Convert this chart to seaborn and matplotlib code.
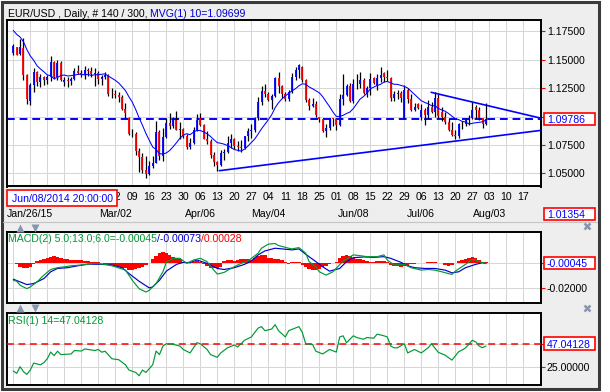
import numpy as np
import pandas as pd
import matplotlib.pyplot as plt
import seaborn as sns
from matplotlib.patches import Rectangle
from matplotlib.lines import Line2D

# EUR/USD daily bars, index 0 = Mon Jan 19 2015 ... 139 = Fri Jul 31 2015
opens = [1.1560, 1.1610, 1.1550, 1.1600, 1.1365, 1.1140, 1.1280, 1.1395, 1.1300, 1.1350,
         1.1320, 1.1345, 1.1480, 1.1345, 1.1475, 1.1300, 1.1320, 1.1310, 1.1330, 1.1400,
         1.1385, 1.1365, 1.1410, 1.1400, 1.1375, 1.1380, 1.1330, 1.1345, 1.1365, 1.1195,
         1.1200, 1.1185, 1.1175, 1.1070, 1.0990, 1.0845, 1.0850, 1.0700, 1.0640, 1.0525,
         1.0495, 1.0565, 1.0595, 1.0860, 1.0650, 1.0820, 1.0940, 1.0920, 1.0965, 1.0885,
         1.0890, 1.0830, 1.0730, 1.0765, 1.0885, 1.0985, 1.0925, 1.0805, 1.0785, 1.0660,
         1.0600, 1.0570, 1.0680, 1.0685, 1.0765, 1.0805, 1.0740, 1.0730, 1.0725, 1.0825,
         1.0870, 1.0885, 1.0985, 1.1125, 1.1225, 1.1195, 1.1145, 1.1180, 1.1340, 1.1265,
         1.1200, 1.1155, 1.1215, 1.1345, 1.1410, 1.1440, 1.1320, 1.1145, 1.1095, 1.1110,
         1.1000, 1.0980, 1.0875, 1.0900, 1.0985, 1.0975, 1.0925, 1.1150, 1.1190, 1.1270,
         1.1140, 1.1290, 1.1285, 1.1325, 1.1200, 1.1250, 1.1335, 1.1270, 1.1335, 1.1380,
         1.1350, 1.1340, 1.1160, 1.1200, 1.1205, 1.0990, 1.1235, 1.1150, 1.1055, 1.1110,
         1.1000, 1.1055, 1.1015, 1.1080, 1.1040, 1.1160, 1.1040, 1.1000, 1.0955, 1.0885,
         1.0835, 1.0830, 1.0935, 1.0930, 1.0980, 1.0985, 1.1085, 1.1060, 1.0985, 1.0935]
highs = [1.1640, 1.1615, 1.1680, 1.1690, 1.1378, 1.1295, 1.1425, 1.1400, 1.1370, 1.1360,
         1.1365, 1.1535, 1.1490, 1.1495, 1.1485, 1.1350, 1.1345, 1.1345, 1.1430, 1.1450,
         1.1405, 1.1445, 1.1425, 1.1440, 1.1425, 1.1400, 1.1365, 1.1390, 1.1375, 1.1250,
         1.1235, 1.1220, 1.1190, 1.1115, 1.1000, 1.0890, 1.0860, 1.0725, 1.0680, 1.0650,
         1.0605, 1.0650, 1.0960, 1.0880, 1.0900, 1.0985, 1.1035, 1.1000, 1.1050, 1.0950,
         1.0900, 1.0845, 1.0810, 1.0905, 1.1025, 1.1030, 1.0935, 1.0870, 1.0800, 1.0690,
         1.0605, 1.0705, 1.0710, 1.0825, 1.0850, 1.0815, 1.0780, 1.0795, 1.0830, 1.0900,
         1.0930, 1.1000, 1.1175, 1.1265, 1.1290, 1.1220, 1.1195, 1.1350, 1.1390, 1.1280,
         1.1220, 1.1230, 1.1385, 1.1440, 1.1465, 1.1445, 1.1330, 1.1165, 1.1165, 1.1140,
         1.1000, 1.0985, 1.0930, 1.0990, 1.0990, 1.0990, 1.1195, 1.1375, 1.1285, 1.1295,
         1.1330, 1.1370, 1.1390, 1.1340, 1.1270, 1.1385, 1.1345, 1.1370, 1.1435, 1.1390,
         1.1410, 1.1345, 1.1225, 1.1230, 1.1225, 1.1275, 1.1250, 1.1195, 1.1120, 1.1120,
         1.1110, 1.1075, 1.1145, 1.1130, 1.1215, 1.1200, 1.1085, 1.1040, 1.0985, 1.0955,
         1.0880, 1.0945, 1.0960, 1.0990, 1.1010, 1.1125, 1.1100, 1.1085, 1.0990, 1.1115]
lows = [1.1540, 1.1540, 1.1540, 1.1320, 1.1112, 1.1100, 1.1220, 1.1265, 1.1260, 1.1275,
        1.1290, 1.1310, 1.1330, 1.1320, 1.1315, 1.1270, 1.1260, 1.1280, 1.1320, 1.1370,
        1.1345, 1.1330, 1.1360, 1.1345, 1.1270, 1.1290, 1.1280, 1.1330, 1.1180, 1.1160,
        1.1165, 1.1130, 1.1060, 1.0985, 1.0840, 1.0820, 1.0665, 1.0515, 1.0500, 1.0460,
        1.0485, 1.0545, 1.0590, 1.0615, 1.0610, 1.0810, 1.0890, 1.0900, 1.0880, 1.0800,
        1.0810, 1.0710, 1.0715, 1.0760, 1.0875, 1.0915, 1.0800, 1.0760, 1.0635, 1.0565,
        1.0520, 1.0560, 1.0620, 1.0680, 1.0720, 1.0710, 1.0695, 1.0690, 1.0710, 1.0780,
        1.0815, 1.0860, 1.0970, 1.1105, 1.1175, 1.1140, 1.1065, 1.1170, 1.1210, 1.1160,
        1.1135, 1.1135, 1.1210, 1.1325, 1.1335, 1.1300, 1.1130, 1.1060, 1.1080, 1.1000,
        1.0955, 1.0865, 1.0820, 1.0880, 1.0915, 1.0885, 1.0920, 1.1100, 1.1180, 1.1130,
        1.1120, 1.1240, 1.1250, 1.1195, 1.1175, 1.1190, 1.1290, 1.1230, 1.1300, 1.1300,
        1.1310, 1.1135, 1.1135, 1.1150, 1.1130, 1.0985, 1.1120, 1.1045, 1.1045, 1.1070,
        1.0970, 1.0925, 1.0990, 1.1030, 1.1000, 1.0990, 1.0960, 1.0935, 1.0870, 1.0830,
        1.0805, 1.0810, 1.0890, 1.0915, 1.0925, 1.0975, 1.0990, 1.0965, 1.0900, 1.0925]
closes = [1.1620, 1.1545, 1.1610, 1.1365, 1.1150, 1.1280, 1.1395, 1.1300, 1.1350, 1.1320,
          1.1345, 1.1480, 1.1345, 1.1475, 1.1320, 1.1320, 1.1310, 1.1330, 1.1400, 1.1385,
          1.1365, 1.1410, 1.1400, 1.1375, 1.1380, 1.1330, 1.1345, 1.1365, 1.1195, 1.1200,
          1.1185, 1.1175, 1.1070, 1.1030, 1.0845, 1.0850, 1.0700, 1.0640, 1.0525, 1.0495,
          1.0565, 1.0595, 1.0860, 1.0650, 1.0820, 1.0940, 1.0920, 1.0965, 1.0885, 1.0890,
          1.0830, 1.0730, 1.0765, 1.0885, 1.0970, 1.0925, 1.0805, 1.0785, 1.0660, 1.0600,
          1.0570, 1.0680, 1.0685, 1.0765, 1.0805, 1.0740, 1.0730, 1.0725, 1.0825, 1.0870,
          1.0885, 1.0985, 1.1125, 1.1225, 1.1195, 1.1145, 1.1180, 1.1340, 1.1265, 1.1200,
          1.1155, 1.1215, 1.1345, 1.1410, 1.1450, 1.1320, 1.1145, 1.1095, 1.1110, 1.1015,
          1.0980, 1.0875, 1.0900, 1.0985, 1.0975, 1.0925, 1.1150, 1.1190, 1.1270, 1.1140,
          1.1290, 1.1285, 1.1325, 1.1210, 1.1250, 1.1330, 1.1295, 1.1335, 1.1365, 1.1350,
          1.1340, 1.1160, 1.1200, 1.1205, 1.1165, 1.1235, 1.1150, 1.1055, 1.1085, 1.1075,
          1.1055, 1.1015, 1.1080, 1.1040, 1.1160, 1.1005, 1.1000, 1.0955, 1.0885, 1.0835,
          1.0830, 1.0935, 1.0930, 1.0980, 1.0985, 1.1060, 1.1060, 1.0985, 1.0935, 1.09786]
# closes before the window, only used to start the 10-bar average
lead_in_closes = [1.1890, 1.1840, 1.1790, 1.1840, 1.1835, 1.1775, 1.1790, 1.1630, 1.1565]

last_price = 1.09786
upper_trend_x = [122.9, 155.2]
upper_trend_y = [1.1213, 1.0985]
lower_trend_x = [60.6, 155.2]
lower_trend_y = [1.0523, 1.0878]

# MACD(5,13,6)
macd_idx = [0, 1, 2, 4, 5, 7, 9, 11, 13, 15, 17, 20, 24, 27, 29, 33, 35, 37, 39, 40,
            42, 44, 45, 47, 49, 51, 53, 55, 57, 59, 60, 62, 64, 67, 69, 72, 73, 75, 77, 78,
            81, 82, 84, 86, 87, 89, 90, 92, 94, 97, 100, 102, 104, 107, 109, 110, 112, 115, 117, 120,
            122, 124, 126, 129, 130, 133, 135, 136, 137, 139]
macd_val = [-0.0137, -0.0145, -0.0176, -0.0203, -0.0189, -0.0150, -0.0097, -0.0053, -0.0039, -0.0032,
            -0.0024, -0.0018, -0.0005, -0.0013, -0.0024, -0.0058, -0.0137, -0.0203, -0.0229, -0.0216,
            -0.0163, -0.0071, 0.0003, 0.0034, 0.0034, -0.0005, 0.0021, 0.0034, 0.0008, -0.0058,
            -0.0089, -0.0076, -0.0045, -0.0005, 0.0013, 0.0074, 0.0113, 0.0145, 0.0150, 0.0134,
            0.0113, 0.0108, 0.0118, 0.0074, 0.0008, -0.0032, -0.0071, -0.0097, -0.0071, 0.0013,
            0.0061, 0.0055, 0.0047, 0.0047, 0.0061, 0.0021, -0.0018, -0.0013, -0.0039, -0.0058,
            -0.0053, -0.0058, -0.0071, -0.0092, -0.0066, -0.0013, 0.0026, 0.0021, 0.0008, -0.00045]
signal_idx = [0, 2, 4, 6, 9, 11, 13, 16, 19, 22, 26, 29, 32, 34, 37, 40, 41, 43, 45, 48,
              50, 52, 54, 57, 60, 62, 65, 68, 70, 72, 74, 77, 79, 82, 84, 86, 89, 91, 93, 96,
              98, 100, 103, 106, 109, 111, 114, 116, 118, 121, 124, 127, 129, 131, 133, 136, 138, 139]
signal_val = [-0.0129, -0.0150, -0.0171, -0.0163, -0.0124, -0.0071, -0.0045, -0.0039, -0.0024, -0.0011,
              -0.0013, -0.0018, -0.0039, -0.0084, -0.0145, -0.0197, -0.0189, -0.0137, -0.0066, -0.0013,
              0.0003, 0.0000, 0.0021, -0.0005, -0.0045, -0.0053, -0.0039, -0.0013, 0.0013, 0.0061,
              0.0092, 0.0113, 0.0108, 0.0100, 0.0108, 0.0066, 0.0008, -0.0032, -0.0066, -0.0045,
              0.0008, 0.0039, 0.0045, 0.0042, 0.0047, 0.0034, 0.0003, -0.0024, -0.0039, -0.0045,
              -0.0045, -0.0058, -0.0079, -0.0071, -0.0039, -0.0013, 0.0000, -0.00073]
hist = [-0.0005, -0.0008, -0.0030, -0.0038, -0.0040, -0.0030, -0.0012, 0.0010, 0.0018, 0.0025,
        0.0040, 0.0048, 0.0050, 0.0045, 0.0038, 0.0030, 0.0025, 0.0022, 0.0020, 0.0022,
        0.0018, 0.0015, 0.0012, 0.0008, 0.0004, 0.0002, -0.0003, -0.0010, -0.0015, -0.0020,
        -0.0022, -0.0030, -0.0038, -0.0045, -0.0055, -0.0058, -0.0050, -0.0040, -0.0030, -0.0020,
        -0.0005, 0.0030, 0.0055, 0.0072, 0.0080, 0.0075, 0.0062, 0.0048, 0.0035, 0.0030,
        0.0005, -0.0005, -0.0003, 0.0003, 0.0010, 0.0008, -0.0012, -0.0025, -0.0038, -0.0045,
        -0.0040, -0.0030, 0.0010, 0.0018, 0.0020, 0.0015, 0.0020, 0.0028, 0.0030, 0.0025,
        0.0022, 0.0040, 0.0055, 0.0062, 0.0058, 0.0040, 0.0035, 0.0030, 0.0025, 0.0018,
        0.0005, -0.0008, 0.0002, 0.0005, 0.0008, -0.0015, -0.0035, -0.0050, -0.0060, -0.0058,
        -0.0048, -0.0035, -0.0025, -0.0012, -0.0003, 0.0008, 0.0035, 0.0055, 0.0060, 0.0052,
        0.0040, 0.0030, 0.0025, 0.0020, 0.0015, 0.0005, 0.0008, 0.0010, 0.0012, 0.0010,
        0.0003, -0.0015, -0.0025, -0.0028, -0.0030, -0.0025, -0.0022, -0.0012, -0.0008, -0.0005,
        -0.0003, -0.0006, 0.0004, 0.0006, 0.0003, -0.0002, -0.0006, -0.0015, -0.0022, -0.0018,
        -0.0005, 0.0010, 0.0020, 0.0032, 0.0040, 0.0042, 0.0035, 0.0018, 0.0005, 0.00028]

# RSI(14)
rsi_idx = [0, 1, 2, 3, 4, 5, 6, 8, 9, 10, 11, 12, 13, 14, 17, 18, 20, 21, 24, 25,
           26, 27, 29, 31, 33, 34, 36, 37, 38, 39, 41, 42, 43, 44, 45, 47, 49, 50, 52, 54,
           55, 57, 58, 60, 61, 63, 65, 66, 68, 70, 72, 73, 74, 76, 77, 78, 80, 81, 84, 85,
           86, 88, 89, 91, 93, 95, 96, 97, 98, 100, 101, 103, 104, 106, 107, 109, 110, 111, 112, 113,
           115, 116, 118, 120, 122, 123, 125, 127, 129, 131, 132, 133, 135, 136, 137, 138, 139]
rsi_val = [20.9, 18.6, 25.0, 20.2, 17.6, 21.8, 28.5, 26.8, 29.0, 32.6, 39.0, 35.6, 39.8, 36.6, 37.2, 40.5, 40.0, 42.0, 40.5, 41.5,
           38.9, 39.8, 32.6, 31.7, 26.8, 21.8, 19.5, 16.3, 21.8, 19.5, 26.8, 40.0, 36.6, 44.8, 47.0, 46.4, 44.8, 41.5, 38.2, 48.0,
           47.0, 41.5, 36.6, 34.0, 38.2, 43.1, 45.8, 43.9, 50.3, 53.5, 62.0, 63.4, 59.5, 61.1, 65.3, 59.5, 53.5, 59.5, 63.4, 57.9,
           47.0, 46.4, 39.8, 37.2, 41.5, 39.0, 53.5, 54.6, 48.0, 54.6, 53.0, 51.3, 53.0, 52.3, 56.2, 54.6, 53.5, 44.8, 43.1, 43.1,
           47.0, 38.2, 41.5, 38.2, 43.1, 47.0, 38.7, 36.1, 31.3, 39.4, 41.0, 43.0, 50.3, 48.7, 44.8, 43.2, 44.8]
rsi_last = 47.04128

week_idx = list(range(0, 151, 5))
# the first weeks sit under the cursor-date box in the original, so they show no label
week_labels = ['', '', '', '', '', '', '02', '09', '16', '23', '30',
               '06', '13', '20', '27', '04', '11', '18', '25', '01', '08', '15',
               '22', '29', '06', '13', '20', '27', '03', '10', '17']
month_idx = [5, 30, 55, 75, 100, 120, 140]
month_labels = ['Jan/26/15', 'Mar/02', 'Apr/06', 'May/04', 'Jun/08', 'Jul/06', 'Aug/03']
price_ticks = [1.05, 1.075, 1.10, 1.125, 1.15, 1.175]

sns.set_style('white')
plt.rcParams['font.family'] = ['Liberation Sans', 'DejaVu Sans']
FS = 7.6
BLUE = '#0000ff'
GREEN = '#009933'
GRID = '#d6d6d6'

W, H = 610, 392
fig = plt.figure(figsize=(W / 100, H / 100), dpi=100, facecolor='white')

# outer frame
frame = Rectangle((1.5 / W, 1 - 388.5 / H), 597 / W, 387 / H, transform=fig.transFigure,
                  facecolor='#eeeeee', edgecolor='#3a3a3a', lw=2.2, zorder=-10)
fig.add_artist(frame)


def add_panel(y0, y1):
    a = fig.add_axes([7 / W, 1 - y1 / H, 534 / W, (y1 - y0) / H])
    a.set_facecolor('white')
    a.set_xlim(-1.85, 155.2)
    a.set_xticks(week_idx)
    a.grid(True, color=GRID, lw=0.75)
    a.set_axisbelow(True)
    for s in a.spines.values():
        s.set_color('black')
        s.set_linewidth(1.4)
    a.yaxis.tick_right()
    a.tick_params(axis='y', direction='out', length=3, width=0.8, color='red',
                  labelcolor='black', labelsize=FS, pad=1.2)
    return a


ax = add_panel(20, 186.5)
ax_macd = add_panel(232.3, 302.5)
ax_rsi = add_panel(313.3, 384.7)

# ---- price panel
x = np.arange(len(closes))
o = np.array(opens)
c = np.array(closes)
body_colors = np.where(c >= o, BLUE, 'red')
ax.vlines(x, lows, highs, color='black', lw=0.9, zorder=3)
ax.vlines(x, o, c, colors=body_colors, lw=1.3, zorder=4)

ma10 = pd.Series(lead_in_closes + closes).rolling(10).mean().iloc[len(lead_in_closes):].values
sns.lineplot(x=x, y=ma10, ax=ax, color=BLUE, linewidth=0.75, legend=False, zorder=5)
sns.lineplot(x=upper_trend_x, y=upper_trend_y, ax=ax, color=BLUE, linewidth=1.2, legend=False, zorder=5)
sns.lineplot(x=lower_trend_x, y=lower_trend_y, ax=ax, color=BLUE, linewidth=1.2, legend=False, zorder=5)
ax.axhline(last_price, color=BLUE, lw=1.4, ls=(0, (4, 2.5)), zorder=2)

ax.set_ylim(1.03838, 1.18495)
ax.set_yticks(price_ticks)
ax.set_yticklabels(['' if abs(t - 1.10) < 1e-9 else f'{t:.5f}' for t in price_ticks])
ax.set_xticklabels(week_labels)
ax.tick_params(axis='x', direction='out', length=3, width=0.8, color='red',
               labelcolor='black', labelsize=FS, pad=1.0)
ax.set_xlabel('')
ax.set_ylabel('')
for i, lab in zip(month_idx, month_labels):
    ax.text(i, -0.185, lab, transform=ax.get_xaxis_transform(), ha='center', va='baseline',
            fontsize=FS, color='black', clip_on=False)

# ---- MACD panel
ax_macd.bar(x, hist, width=1.0, color='red', lw=0, zorder=2)
sns.lineplot(x=macd_idx, y=macd_val, ax=ax_macd, color=GREEN, linewidth=0.85, legend=False, zorder=4)
sns.lineplot(x=signal_idx, y=signal_val, ax=ax_macd, color='#0000cc', linewidth=0.85, legend=False, zorder=3)
ax_macd.set_ylim(-0.0311, 0.02375)
ax_macd.set_yticks([-0.02, -0.00045])
ax_macd.set_yticklabels(['-0.02000', ''])
ax_macd.tick_params(axis='x', length=0, labelbottom=False)
ax_macd.set_xlabel('')
ax_macd.set_ylabel('')

# ---- RSI panel
sns.lineplot(x=rsi_idx, y=rsi_val, ax=ax_rsi, color=GREEN, linewidth=0.85, legend=False, zorder=4)
ax_rsi.axhline(rsi_last, color='red', lw=1.1, ls=(0, (4.5, 3)), zorder=3)
ax_rsi.set_ylim(7.75, 76.17)
ax_rsi.set_yticks([25, rsi_last])
ax_rsi.set_yticklabels(['25.00000', ''])
ax_rsi.tick_params(axis='x', length=0, labelbottom=False)
ax_rsi.set_xlabel('')
ax_rsi.set_ylabel('')


# ---- texts and boxes
def chain(a, xpx, ypx, parts):
    t = a.annotate(parts[0][0], xy=(xpx / W, 1 - ypx / H), xycoords='figure fraction',
                   va='baseline', ha='left', color=parts[0][1], fontsize=FS)
    for s, col in parts[1:]:
        t = a.annotate(s, xy=(1, 0), xycoords=t, va='bottom', ha='left', color=col, fontsize=FS)


chain(ax, 7.5, 16.8, [('EUR/USD , Daily, # 140 / 300, ', 'black'), ('MVG(1) 10=1.09699', '#0000cc')])
chain(ax_macd, 8, 242.3, [('MACD(2) 5.0;13.0;6.0=-0.00045', GREEN), ('/-0.00073', '#0000cc'),
                          ('/0.00028', 'red')])
chain(ax_rsi, 8, 323.8, [('RSI(1) 14=47.04128', GREEN)])


def fig_rect(x0, y0, x1, y1, **kw):
    r = Rectangle((x0 / W, 1 - y1 / H), (x1 - x0) / W, (y1 - y0) / H,
                  transform=fig.transFigure, **kw)
    fig.add_artist(r)


def value_box(a, value, text):
    yc = H - a.transData.transform((0, value))[1]
    fig_rect(544, yc - 6.2, 595, yc + 6.2, facecolor='white', edgecolor='red', lw=1.2, zorder=5)
    fig.text(547 / W, 1 - yc / H, text, color=BLUE, fontsize=FS, va='center_baseline',
             ha='left', zorder=6)


value_box(ax, last_price, '1.09786')
value_box(ax_macd, -0.00045, '-0.00045')
value_box(ax_rsi, rsi_last, '47.04128')

fig_rect(544, 208, 595, 219.5, facecolor='white', edgecolor='red', lw=1.2, zorder=5)
fig.text(547 / W, 1 - 213.8 / H, '1.01354', color=BLUE, fontsize=FS, va='center_baseline',
         ha='left', zorder=6)
fig_rect(7.3, 190, 117.3, 206, facecolor='white', edgecolor='red', lw=1.2, zorder=5)
fig.text(62.3 / W, 1 - 198.2 / H, 'Jun/08/2014 20:00:00', color=BLUE, fontsize=FS,
         va='center_baseline', ha='center', zorder=6)

# panel separators and little icons
fig.add_artist(Line2D([3 / W, 597 / W], [1 - 222 / H] * 2, color='#c4c4c4', lw=0.8,
                      transform=fig.transFigure))
for ypx in (228, 307.5):
    fig.add_artist(Line2D([20 / W], [1 - ypx / H], marker='^', ms=5.5, color='#8795b0',
                          mec='none', ls='none', transform=fig.transFigure))
    fig.add_artist(Line2D([34.5 / W], [1 - ypx / H], marker='v', ms=5.5, color='#8795b0',
                          mec='none', ls='none', transform=fig.transFigure))
for ypx in (226.5, 307.5):
    fig.add_artist(Line2D([587 / W], [1 - ypx / H], marker='x', ms=4.5, mew=1.8, color='#8795b0',
                          ls='none', transform=fig.transFigure))

fig.savefig('out.png', dpi=100, facecolor='white')
